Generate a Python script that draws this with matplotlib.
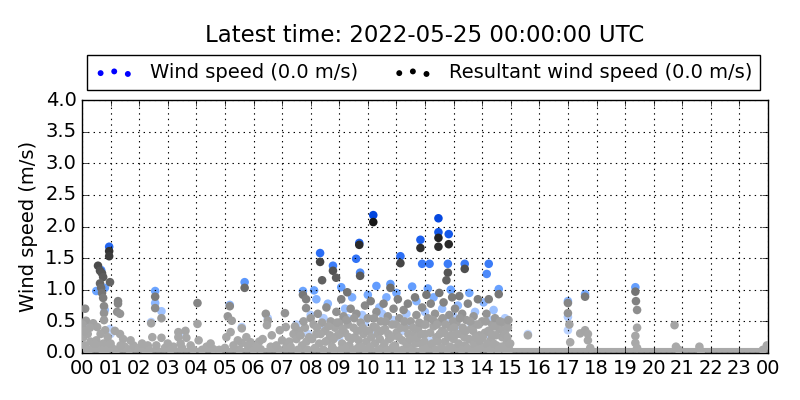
# Wind speed scatter for one day, recreated from the station plot.
import matplotlib
matplotlib.use("Agg")
import matplotlib.pyplot as plt
from matplotlib.colors import LinearSegmentedColormap, Normalize

# --- data (hour of day, m/s) ---
title_text = "Latest time: 2022-05-25 00:00:00 UTC"
legend_labels = ["Wind speed (0.0 m/s)", "Resultant wind speed (0.0 m/s)"]
tick_hours = list(range(0, 25))
tick_labels = ["00", "01", "02", "03", "04", "05", "06", "07", "08", "09", "10", "11",
               "12", "13", "14", "15", "16", "17", "18", "19", "20", "21", "22", "23", "00"]

# calm period (0.0 m/s) that shows as the band along the bottom
calm_from, calm_to = 0.0, 24.0

ws_hour = [0.95, 0.67, 0.50, 0.80, 0.80, 0.98, 1.00, 0.20,
           2.56, 2.56, 2.78, 2.42, 3.50,
           5.69, 5.17, 5.59, 6.50,
           7.73, 8.12, 8.33, 8.78, 9.07, 9.59, 9.73, 9.70, 10.19, 10.30, 10.79,
           11.14, 11.84, 12.47, 12.47, 12.83, 11.90, 12.16, 12.80, 13.39, 14.23, 14.16, 14.58,
           8.00, 8.20, 8.45, 8.60, 8.90, 9.20, 9.45, 9.80, 10.00, 10.40, 10.65, 11.00,
           11.35, 11.55, 11.70, 12.10, 12.30, 12.60, 12.90, 13.15, 13.55, 13.75, 14.05,
           14.40, 14.80, 7.50, 7.90, 9.00, 10.20, 11.20, 12.20, 13.20, 14.20,
           8.50, 9.30, 9.90, 10.50, 10.90, 11.45, 12.00, 12.70, 13.00, 13.60, 14.30,
           15.60, 17.00, 17.00, 17.00, 17.60, 19.36]
ws_val = [1.68, 1.31, 0.98, 1.03, 0.68, 0.38, 0.30, 0.40,
          0.98, 0.79, 0.66, 0.49, 0.30,
          1.12, 0.76, 0.41, 0.55,
          0.98, 0.99, 1.58, 1.38, 1.04, 1.49, 1.27, 1.74, 2.18, 1.06, 1.09,
          1.53, 1.79, 2.13, 1.91, 1.88, 1.41, 1.41, 1.41, 1.41, 1.41, 1.25, 1.01,
          0.60, 0.85, 0.55, 0.78, 0.45, 0.70, 0.88, 0.60, 0.92, 0.72, 0.88, 0.95,
          0.62, 1.05, 0.82, 1.02, 0.88, 0.70, 1.00, 0.75, 0.95, 0.65, 0.80,
          0.68, 0.55, 0.45, 0.30, 0.25, 0.30, 0.35, 0.20, 0.40, 0.30,
          0.40, 0.55, 0.48, 0.62, 0.52, 0.45, 0.65, 0.50, 0.58, 0.48, 0.52,
          0.30, 0.82, 0.57, 0.36, 0.93, 1.04]

rws_hour = [0.11, 0.14, 0.39, 0.53, 0.56, 0.63, 0.70, 0.74, 0.63, 0.67, 0.70, 0.74,
            0.77, 0.77, 0.77, 0.81, 0.95, 0.95, 0.98, 1.26, 1.26, 1.23, 1.33, 1.33, 1.44,
            0.05, 0.10, 0.20, 0.25, 0.30, 0.40, 0.50, 0.60, 0.75, 0.85, 0.90, 1.05, 1.15,
            1.50, 1.65, 1.80, 2.00, 2.20, 2.30,
            0.02, 0.08, 0.18, 0.28, 0.45, 0.65, 0.70, 1.00, 1.20, 1.35, 1.70, 2.10,
            2.56, 2.56, 2.78, 2.42, 2.46, 2.78, 2.60, 2.90,
            3.37, 3.62, 3.37, 3.65, 3.20, 3.50, 3.80, 4.04, 4.04, 4.08, 4.36, 4.20, 4.60,
            2.35, 3.00, 3.10, 3.45, 3.90, 4.50, 4.80, 5.05, 5.50, 5.80, 6.00, 6.20, 6.60,
            6.90, 7.15,
            5.17, 5.10, 5.24, 5.59, 5.20, 5.90, 5.59, 5.69, 5.00, 5.30, 5.45, 5.75, 6.10, 6.25,
            6.43, 6.50, 6.47, 6.64, 6.32, 7.10, 7.13, 6.92, 6.80, 7.00, 7.25,
            7.73, 7.84, 7.84, 7.40, 7.50, 7.60, 7.70, 7.80, 7.95, 8.00,
            8.33, 8.40, 8.78, 8.89, 8.10, 8.20, 8.25, 8.30, 8.40, 8.50, 8.55, 8.60, 8.70,
            8.75, 8.85, 8.90, 8.95,
            9.07, 9.28, 9.73, 9.70, 9.00, 9.10, 9.15, 9.20, 9.30, 9.35, 9.40, 9.50, 9.55,
            9.60, 9.65, 9.75, 9.85, 9.90, 9.95,
            10.19, 10.79, 10.00, 10.05, 10.10, 10.20, 10.25, 10.30, 10.35, 10.45, 10.50,
            10.55, 10.60, 10.70, 10.75, 10.85, 10.90, 10.95,
            11.14, 11.84, 11.00, 11.05, 11.10, 11.20, 11.25, 11.30, 11.40, 11.45, 11.50,
            11.60, 11.65, 11.70, 11.75, 11.85, 11.90, 11.95,
            12.47, 12.47, 12.83, 12.80, 12.75, 12.00, 12.05, 12.10, 12.15, 12.20, 12.30,
            12.35, 12.40, 12.50, 12.55, 12.60, 12.65, 12.70, 12.85, 12.90, 12.95,
            13.39, 13.00, 13.05, 13.10, 13.20, 13.25, 13.30, 13.40, 13.45, 13.50, 13.60,
            13.65, 13.70, 13.80, 13.85, 13.90, 13.95,
            14.58, 14.23, 14.00, 14.10, 14.15, 14.30, 14.35, 14.45, 14.50, 14.60, 14.70,
            14.75, 14.85, 14.90, 14.95,
            # dense calm-ish readings through the late morning and midday
            7.30, 7.45, 7.55, 7.65, 7.75, 7.85, 7.90, 8.05, 8.15, 8.22, 8.35, 8.45, 8.52,
            8.62, 8.68, 8.80, 8.82, 8.92, 9.02, 9.05, 9.12, 9.22, 9.25, 9.33, 9.42, 9.48,
            9.52, 9.62, 9.68, 9.78, 9.82, 9.92, 9.98, 10.08, 10.12, 10.22, 10.28, 10.38,
            10.42, 10.48, 10.58, 10.62, 10.68, 10.72, 10.82, 10.88, 10.98, 11.02, 11.08,
            11.15, 11.22, 11.28, 11.35, 11.42, 11.48, 11.55, 11.58, 11.68, 11.72, 11.80,
            11.88, 11.92, 11.98, 12.02, 12.08, 12.18, 12.25, 12.28, 12.38, 12.42, 12.45,
            12.52, 12.58, 12.62, 12.68, 12.72, 12.78, 12.82, 12.88, 12.92, 12.98, 13.02,
            13.08, 13.12, 13.18, 13.22, 13.28, 13.32, 13.38, 13.42, 13.48, 13.55, 13.58,
            13.62, 13.68, 13.72, 13.78, 13.82, 13.88, 13.92, 14.02, 14.05, 14.12, 14.18,
            14.22, 14.28, 14.32, 14.40, 14.42, 14.48, 14.55, 14.62, 14.68, 14.72, 14.80,
            14.82, 14.88, 14.92, 14.98,
            15.60,
            17.00, 17.00, 17.08, 17.60, 17.43, 17.60, 17.70, 17.70, 17.78, 17.05,
            19.36, 19.38, 19.42, 19.42, 19.36, 19.36, 19.42,
            20.73, 20.78, 20.88, 21.60, 21.65, 23.96, 23.82]
rws_val = [0.70, 0.51, 0.47, 0.41, 1.38, 1.30, 1.26, 1.20, 1.10, 1.03, 0.95, 0.87,
           0.74, 0.63, 0.52, 0.36, 1.61, 1.53, 1.12, 0.82, 0.78, 0.65, 0.62, 0.30, 0.22,
           0.25, 0.12, 0.30, 0.05, 0.18, 0.08, 0.20, 0.10, 0.15, 0.05, 0.25, 0.08, 0.35,
           0.10, 0.05, 0.12, 0.08, 0.05, 0.12,
           0.45, 0.35, 0.05, 0.40, 0.15, 0.30, 0.05, 0.15, 0.05, 0.12, 0.20, 0.15,
           0.89, 0.71, 0.55, 0.47, 0.25, 0.24, 0.12, 0.08,
           0.33, 0.35, 0.25, 0.24, 0.10, 0.08, 0.12, 0.79, 0.46, 0.20, 0.10, 0.05, 0.06,
           0.05, 0.15, 0.05, 0.15, 0.05, 0.15, 0.05, 0.25, 0.05, 0.12, 0.05, 0.18, 0.10,
           0.05, 0.10,
           0.74, 0.58, 0.51, 0.39, 0.33, 0.17, 0.16, 1.03, 0.08, 0.12, 0.20, 0.25, 0.10, 0.06,
           0.62, 0.51, 0.44, 0.28, 0.22, 0.63, 0.41, 0.36, 0.12, 0.20, 0.18,
           0.92, 0.85, 0.71, 0.30, 0.22, 0.35, 0.12, 0.40, 0.25, 0.55,
           1.44, 1.15, 1.30, 1.19, 0.45, 0.30, 0.62, 0.15, 0.48, 0.35, 0.72, 0.20, 0.50,
           0.10, 0.40, 0.65, 0.28,
           0.85, 0.96, 1.22, 1.71, 0.48, 0.15, 0.58, 0.32, 0.45, 0.12, 0.70, 0.40, 0.25,
           0.62, 0.08, 0.48, 0.30, 0.75, 0.18,
           2.07, 1.03, 0.55, 0.35, 0.82, 0.42, 0.15, 0.65, 0.30, 0.50, 0.08,
           0.78, 0.38, 0.58, 0.22, 0.45, 0.70, 0.12,
           1.42, 1.66, 0.32, 0.85, 0.55, 0.20, 0.68, 0.40, 0.78, 0.10, 0.50,
           0.28, 0.88, 0.60, 0.38, 0.15, 0.72, 0.45,
           1.82, 1.68, 1.72, 1.27, 1.15, 0.30, 0.92, 0.55, 0.12, 0.78, 0.42,
           0.62, 0.25, 0.95, 0.50, 0.35, 0.80, 0.18, 0.60, 0.40, 0.88,
           1.33, 0.22, 0.70, 0.48, 0.90, 0.30, 0.62, 0.12, 0.52, 0.78, 0.38,
           0.20, 0.58, 0.45, 0.85, 0.28, 0.10,
           0.93, 0.85, 0.50, 0.32, 0.62, 0.20, 0.45, 0.55, 0.12, 0.38, 0.25,
           0.48, 0.15, 0.40, 0.05,
           0.10, 0.42, 0.05, 0.28, 0.50, 0.18, 0.05, 0.22, 0.08, 0.40, 0.30, 0.05, 0.18,
           0.42, 0.28, 0.22, 0.05, 0.48, 0.30, 0.05, 0.38, 0.08, 0.52, 0.25, 0.22, 0.05,
           0.55, 0.35, 0.20, 0.10, 0.40, 0.05, 0.35, 0.10, 0.25, 0.55, 0.40, 0.05,
           0.22, 0.35, 0.15, 0.50, 0.05, 0.30, 0.25, 0.10, 0.45, 0.05, 0.25,
           0.40, 0.05, 0.50, 0.15, 0.30, 0.22, 0.05, 0.40, 0.15, 0.25, 0.48,
           0.30, 0.05, 0.18, 0.45, 0.08, 0.32, 0.15, 0.52, 0.05, 0.45, 0.18,
           0.30, 0.08, 0.55, 0.32, 0.45, 0.05, 0.25, 0.10, 0.28, 0.50, 0.40,
           0.08, 0.30, 0.15, 0.55, 0.05, 0.40, 0.25, 0.35, 0.08, 0.22, 0.50,
           0.05, 0.35, 0.15, 0.25, 0.05, 0.45, 0.20, 0.25, 0.08, 0.50, 0.15,
           0.35, 0.05, 0.30, 0.15, 0.42, 0.28, 0.05, 0.50, 0.10, 0.35, 0.30,
           0.05, 0.25, 0.52, 0.15,
           0.28,
           0.79, 0.63, 0.17, 0.89, 0.31, 0.36, 0.20, 0.30, 0.08, 0.45,
           0.97, 0.82, 0.68, 0.40, 0.27, 0.16, 0.08,
           0.44, 0.10, 0.05, 0.10, 0.03, 0.12, 0.05]

# colour ramps: faint for calm values, dark for the gusts
blue_cmap = LinearSegmentedColormap.from_list(
    "ws", [(0.0, "#cfe0ff"), (0.25, "#b0ccff"), (0.45, "#6aa3ff"),
           (0.7, "#2c6ff5"), (1.0, "#0044dd")])
gray_cmap = LinearSegmentedColormap.from_list(
    "rws", [(0.0, "#aaaaaa"), (0.2, "#a4a4a4"), (0.4, "#7c7c7c"),
            (0.6, "#505050"), (0.8, "#262626"), (1.0, "#111111")])
norm = Normalize(0.0, 2.2)

plt.style.use("classic")
fig = plt.figure(figsize=(8, 4), dpi=100, facecolor="white")
ax = fig.add_axes([0.1025, 0.1175, 0.8575, 0.6325])

ax.plot([calm_from, calm_to], [0.0, 0.0], color="#aaaaaa", lw=8,
        solid_capstyle="butt", zorder=1)
ax.scatter(ws_hour, ws_val, c=ws_val, cmap=blue_cmap, norm=norm, s=38,
           edgecolors="none", zorder=2)
ax.scatter(rws_hour, rws_val, c=rws_val, cmap=gray_cmap, norm=norm, s=38,
           edgecolors="none", zorder=3)

ax.set_xlim(0, 24)
ax.set_ylim(0, 4)
ax.set_xticks(tick_hours)
ax.set_xticklabels(tick_labels)
ax.set_yticks([0.0, 0.5, 1.0, 1.5, 2.0, 2.5, 3.0, 3.5, 4.0])
ax.tick_params(labelsize=14)
ax.grid(True, color="k", linestyle=":", linewidth=0.8)
ax.set_axisbelow(False)
ax.set_ylabel("Wind speed (m/s)", fontsize=14)

fig.text(425 / 800, 0.9125, title_text, ha="center", va="center", fontsize=16.5)

h1 = ax.scatter([], [], color="#0000ff", s=18, edgecolors="none")
h2 = ax.scatter([], [], color="black", s=18, edgecolors="none")
fig.legend([h1, h2], legend_labels, loc="lower left", ncol=2, mode="expand",
           bbox_to_anchor=(87 / 800, 1 - 90 / 400, 673 / 800, 35 / 400),
           scatterpoints=3, fontsize=14, frameon=True, fancybox=False,
           borderaxespad=0.0, handletextpad=0.85, columnspacing=1.0)

fig.savefig("out.png", dpi=100, facecolor="white")
